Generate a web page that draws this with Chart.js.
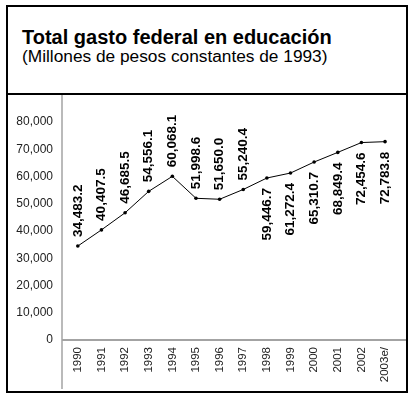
<!DOCTYPE html>
<html>
<head>
<meta charset="utf-8">
<script src="https://cdn.jsdelivr.net/npm/chart.js@4/dist/chart.umd.min.js"></script>
<style>
  body { margin: 0; background: #fff; font-family: "Liberation Sans", Arial, sans-serif; }
  #box { position: absolute; left: 6px; top: 5px; width: 402px; height: 388px; border: 2px solid #000; box-sizing: border-box; }
  #sep { position: absolute; left: 6px; top: 93px; width: 402px; height: 2px; background: #000; }
  .t { position: absolute; left: 22px; white-space: nowrap; color: #000; }
  #title { top: 27px; font-size: 20px; line-height: 20px; font-weight: bold; }
  #subtitle { top: 48px; font-size: 17.3px; line-height: 17px; }
  #chart_wrap { position: absolute; left: 8px; top: 95px; width: 398px; height: 294px; }
</style>
</head>
<body>
<div id="box"></div>
<div id="sep"></div>
<div class="t" id="title">Total gasto federal en educación</div>
<div class="t" id="subtitle">(Millones de pesos constantes de 1993)</div>
<div id="chart_wrap"><canvas id="gasto_chart" width="398" height="294"></canvas></div>
<script>
const years = ["1990", "1991", "1992", "1993", "1994", "1995", "1996", "1997",
  "1998", "1999", "2000", "2001", "2002", "2003e/"];
const gasto = [34483.2, 40407.5, 46685.5, 54556.1, 60068.1, 51998.6, 51650.0, 55240.4,
  59446.7, 61272.4, 65310.7, 68849.4, 72454.6, 72783.8];
const y_ticks = [0, 10000, 20000, 30000, 40000, 50000, 60000, 70000, 80000];

// labels go under the line from 1998 on
const below_from = 8;

const axis_lines = {
  id: "axis_lines",
  beforeDatasetsDraw(chart) {
    const c = chart.ctx;
    const x0 = chart.chartArea.left - 4;
    const y0 = chart.scales.y.getPixelForValue(0);
    c.save();
    c.strokeStyle = "#a3a3a3";
    c.lineWidth = 1.5;
    c.beginPath();
    c.moveTo(x0, 0);
    c.lineTo(x0, chart.height);
    c.stroke();
    c.lineWidth = 2;
    c.beginPath();
    c.moveTo(x0, y0);
    c.lineTo(chart.width, y0);
    c.stroke();
    c.restore();
  }
};

const value_labels = {
  id: "value_labels",
  afterDatasetsDraw(chart) {
    const c = chart.ctx;
    const meta = chart.getDatasetMeta(0);
    c.save();
    c.font = "bold 13.5px 'Liberation Sans', Arial, sans-serif";
    c.fillStyle = "#000";
    c.textBaseline = "middle";
    meta.data.forEach((pt, i) => {
      const txt = gasto[i].toLocaleString("en-US", { minimumFractionDigits: 1, maximumFractionDigits: 1 });
      c.save();
      if (i >= below_from) {
        c.translate(pt.x, pt.y + 10);
        c.rotate(-Math.PI / 2);
        c.textAlign = "right";
      } else {
        c.translate(pt.x, pt.y - 9);
        c.rotate(-Math.PI / 2);
        c.textAlign = "left";
      }
      c.fillText(txt, 0, 0);
      c.restore();
    });
    c.restore();
  }
};

const gasto_chart = new Chart(document.getElementById("gasto_chart"), {
  type: "line",
  data: {
    labels: years,
    datasets: [{
      data: gasto,
      borderColor: "#000",
      borderWidth: 1,
      backgroundColor: "#000",
      pointRadius: 1.8,
      pointBorderWidth: 0,
      tension: 0,
      fill: false
    }]
  },
  options: {
    responsive: false,
    animation: false,
    layout: { padding: { top: 27, right: 3, left: 0, bottom: 0 } },
    plugins: {
      legend: { display: false },
      tooltip: { enabled: false }
    },
    scales: {
      x: {
        offset: true,
        grid: { display: false, drawTicks: false },
        border: { display: false },
        ticks: {
          minRotation: 90,
          maxRotation: 90,
          padding: 7,
          color: "#222",
          font: { family: "'Liberation Sans', Arial, sans-serif", size: 11.5 }
        },
        afterFit(scale) { scale.height = 49; }
      },
      y: {
        min: 0,
        max: 80000,
        afterBuildTicks(scale) { scale.ticks = y_ticks.map(v => ({ value: v })); },
        grid: { display: false, drawTicks: false },
        border: { display: false },
        ticks: {
          padding: 13,
          color: "#222",
          font: { family: "'Liberation Sans', Arial, sans-serif", size: 12 },
          callback: v => v.toLocaleString("en-US")
        },
        afterFit(scale) { scale.width = 58; }
      }
    }
  },
  plugins: [axis_lines, value_labels]
});
</script>
</body>
</html>
